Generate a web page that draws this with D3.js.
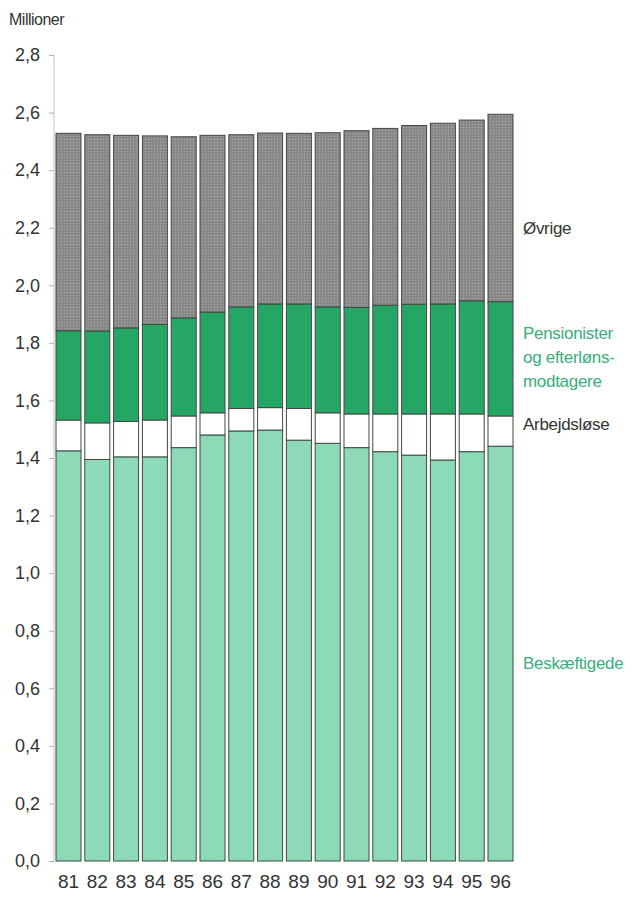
<!DOCTYPE html>
<html><head><meta charset="utf-8">
<script src="https://cdn.jsdelivr.net/npm/d3@7/dist/d3.min.js"></script>
<style>body{margin:0;background:#fff}svg{display:block}</style>
</head><body>
<script>
const years = ["81","82","83","84","85","86","87","88","89","90","91","92","93","94","95","96"];
const beskaeftigede = [1.425,1.395,1.404,1.404,1.436,1.480,1.494,1.497,1.462,1.451,1.436,1.422,1.410,1.393,1.422,1.441];
const arbejdsloese  = [0.107,0.127,0.123,0.128,0.110,0.077,0.078,0.078,0.110,0.106,0.117,0.131,0.143,0.160,0.131,0.105];
const pensionister  = [0.310,0.319,0.325,0.332,0.341,0.350,0.353,0.360,0.363,0.368,0.370,0.378,0.381,0.382,0.393,0.397];
const oevrige       = [0.686,0.682,0.669,0.655,0.629,0.614,0.598,0.594,0.593,0.605,0.614,0.614,0.621,0.628,0.628,0.651];
const yTicks = [0,0.2,0.4,0.6,0.8,1.0,1.2,1.4,1.6,1.8,2.0,2.2,2.4,2.6,2.8];
const seriesKeys = ["beskaeftigede","arbejdsloese","pensionister","oevrige"];
const seriesLabels = {
  oevrige: ["Øvrige"],
  pensionister: ["Pensionister","og efterløns-","modtagere"],
  arbejdsloese: ["Arbejdsløse"],
  beskaeftigede: ["Beskæftigede"]
};

const W = 633, H = 897;
const svg = d3.select("body").append("svg").attr("width", W).attr("height", H);
const font = "'Liberation Sans',Arial,sans-serif";

const defs = svg.append("defs");
const pg = defs.append("pattern").attr("id","pGrey").attr("patternUnits","userSpaceOnUse").attr("width",3).attr("height",3);
pg.append("rect").attr("width",3).attr("height",3).attr("fill","#878787");
pg.append("circle").attr("cx",1.5).attr("cy",1.5).attr("r",0.7).attr("fill","#a9a9a9");
const pgr = defs.append("pattern").attr("id","pGreen").attr("patternUnits","userSpaceOnUse").attr("width",4).attr("height",4);
pgr.append("rect").attr("width",4).attr("height",4).attr("fill","#25a564");
pgr.append("circle").attr("cx",2).attr("cy",2).attr("r",0.6).attr("fill","#31b272");
const pm = defs.append("pattern").attr("id","pMint").attr("patternUnits","userSpaceOnUse").attr("width",4).attr("height",4).attr("patternTransform","rotate(-30)");
pm.append("rect").attr("width",4).attr("height",4).attr("fill","#8fdbba");
pm.append("line").attr("x1",0).attr("y1",0).attr("x2",0).attr("y2",4).attr("stroke","#7ecfac").attr("stroke-width",1.2);

const fills = {beskaeftigede:"url(#pMint)", arbejdsloese:"#ffffff", pensionister:"url(#pGreen)", oevrige:"url(#pGrey)"};

const x = d3.scaleBand().domain(years).range([56,513]).paddingInner(0.132).paddingOuter(0);
const y = d3.scaleLinear().domain([0,2.8]).range([861,55]);

const data = years.map((yr,i)=>({year:yr, beskaeftigede:beskaeftigede[i], arbejdsloese:arbejdsloese[i], pensionister:pensionister[i], oevrige:oevrige[i]}));
const stack = d3.stack().keys(seriesKeys)(data);

const yAxis = d3.axisLeft(y).tickValues(yTicks).tickSize(5).tickPadding(9)
  .tickFormat(d => d3.format(".1f")(d).replace(".", ","));
const ga = svg.append("g").attr("transform","translate(54,0)").call(yAxis);
ga.select(".domain").attr("stroke","#c4c4c4").attr("stroke-width",1).attr("d","M0,55V861");
ga.selectAll(".tick line").attr("stroke","#b0b0b0");
ga.selectAll(".tick text").attr("font-family",font).attr("font-size",18).attr("fill","#333");

svg.append("g").selectAll("g").data(stack).join("g")
  .attr("fill", d => fills[d.key])
  .selectAll("rect").data(d=>d).join("rect")
  .attr("x", d => x(d.data.year))
  .attr("y", d => y(d[1]))
  .attr("width", x.bandwidth())
  .attr("height", d => y(d[0]) - y(d[1]))
  .attr("stroke","#3d4a42").attr("stroke-width",1);

const xAxis = d3.axisBottom(x).tickSize(0).tickPadding(14);
const gx = svg.append("g").attr("transform","translate(0,861)").call(xAxis);
gx.select(".domain").remove();
gx.selectAll(".tick text").attr("font-family",font).attr("font-size",19).attr("fill","#333");

svg.append("text").attr("x",9).attr("y",25).text("Millioner")
  .attr("font-family",font).attr("font-size",16).attr("fill","#333").attr("letter-spacing",-0.5);

const labelPos = {oevrige:[234], pensionister:[339,363,387], arbejdsloese:[430], beskaeftigede:[669]};
const labelColor = {oevrige:"#333", pensionister:"#3aad7c", arbejdsloese:"#333", beskaeftigede:"#3aad7c"};
seriesKeys.forEach(k=>{
  seriesLabels[k].forEach((t,j)=>{
    svg.append("text").attr("x",523).attr("y",labelPos[k][j]).text(t)
      .attr("font-family",font).attr("font-size",17).attr("fill",labelColor[k]).attr("letter-spacing",-0.3);
  });
});
</script>
</body></html>
